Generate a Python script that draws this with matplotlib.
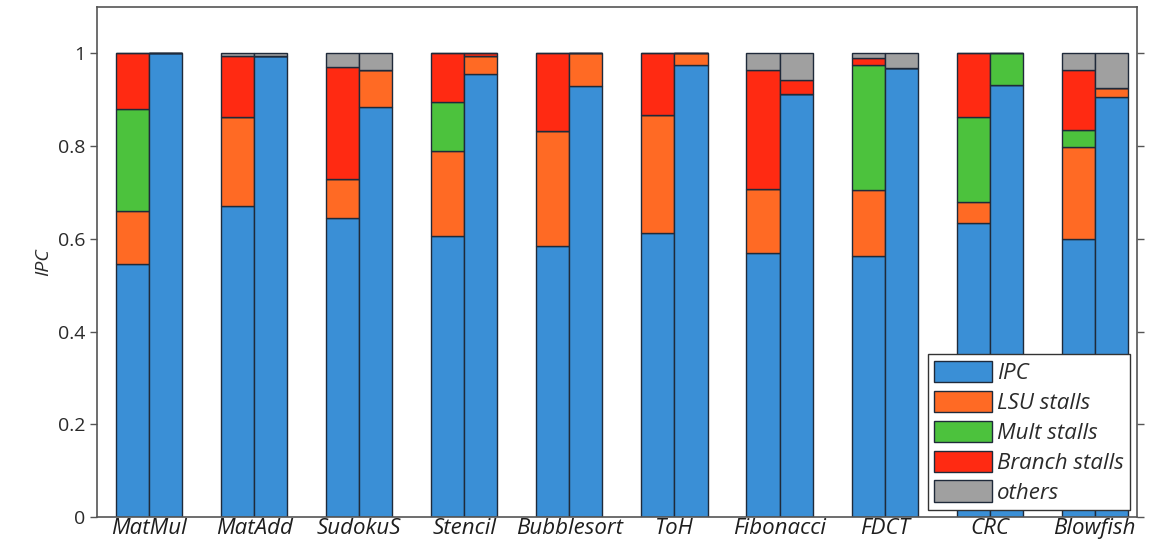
import numpy as np
import matplotlib
matplotlib.use("AGG")
from matplotlib import pyplot as plt
from matplotlib.patches import Patch

plt.rcParams["font.family"] = ["Open Sans", "DejaVu Sans"]

benchmarks = ["MatMul", "MatAdd", "SudokuS", "Stencil", "Bubblesort",
              "ToH", "Fibonacci", "FDCT", "CRC", "Blowfish"]
series = ["IPC", "LSU stalls", "Mult stalls", "Branch stalls", "others"]

# left bar of each pair (segment heights)
ipc_a = [0.545, 0.670, 0.645, 0.605, 0.585, 0.613, 0.570, 0.563, 0.635, 0.600]
lsu_a = [0.115, 0.192, 0.085, 0.185, 0.247, 0.255, 0.138, 0.142, 0.045, 0.197]
mult_a = [0.220, 0.000, 0.000, 0.105, 0.000, 0.000, 0.000, 0.270, 0.182, 0.038]
branch_a = [0.120, 0.133, 0.240, 0.105, 0.168, 0.132, 0.257, 0.015, 0.138, 0.130]
others_a = [0.000, 0.005, 0.030, 0.000, 0.000, 0.000, 0.035, 0.010, 0.000, 0.035]

# right bar of each pair
ipc_b = [1.000, 0.995, 0.885, 0.955, 0.930, 0.975, 0.912, 0.968, 0.932, 0.905]
lsu_b = [0.000, 0.000, 0.080, 0.040, 0.070, 0.025, 0.000, 0.000, 0.000, 0.020]
mult_b = [0.000, 0.000, 0.000, 0.000, 0.000, 0.000, 0.000, 0.000, 0.068, 0.000]
branch_b = [0.000, 0.000, 0.000, 0.005, 0.000, 0.000, 0.030, 0.000, 0.000, 0.000]
others_b = [0.000, 0.005, 0.035, 0.000, 0.000, 0.000, 0.058, 0.032, 0.000, 0.075]

colors = ["#3a8fd6", "#ff6a24", "#4cc23d", "#ff2a12", "#a0a0a0"]
edge = "#1f2a3a"

fig = plt.figure(figsize=(11.49, 5.52), dpi=100)
ax = fig.add_axes([0.0844, 0.0634, 0.905, 0.924])

x = np.arange(len(benchmarks))
w = 0.315
for pos, stacks in [(x - w / 2, [ipc_a, lsu_a, mult_a, branch_a, others_a]),
                    (x + w / 2, [ipc_b, lsu_b, mult_b, branch_b, others_b])]:
    bottom = np.zeros(len(benchmarks))
    for vals, c in zip(stacks, colors):
        vals = np.array(vals)
        ax.bar(pos, vals, w, bottom=bottom, color=c, edgecolor=edge, linewidth=1.0)
        bottom += vals

ax.set_xlim(-0.495, 9.40)
ax.set_ylim(0, 1.1)
ax.set_yticks([0, 0.2, 0.4, 0.6, 0.8, 1])
ax.set_yticklabels(["0", "0.2", "0.4", "0.6", "0.8", "1"], fontsize=14, color="#2a2a2a")
ax.set_xticks(x)
ax.set_xticklabels(benchmarks, fontsize=16, style="italic", color="#1e1e1e")
ax.tick_params(axis="x", length=0, pad=1)
ax.tick_params(axis="y", direction="out", length=5, right=True, width=1, color="#555555")
ax.set_ylabel("IPC", fontsize=14, style="italic", color="#2a2a2a", labelpad=4)
for s in ax.spines.values():
    s.set_color("#555555")
    s.set_linewidth(1.2)

handles = [Patch(facecolor=c, edgecolor=edge, linewidth=1.0) for c in colors]
leg = ax.legend(handles, series, loc="lower right", prop={"style": "italic", "size": 16},
                frameon=True, fancybox=False, framealpha=1, edgecolor="#333333",
                borderaxespad=0.3, handlelength=2.6, handleheight=1.1, labelspacing=0.3,
                handletextpad=0.2, borderpad=0.3)
leg.get_frame().set_linewidth(1.0)
for t in leg.get_texts():
    t.set_color("#2a2a2a")

plt.savefig("out.png", dpi=100)
